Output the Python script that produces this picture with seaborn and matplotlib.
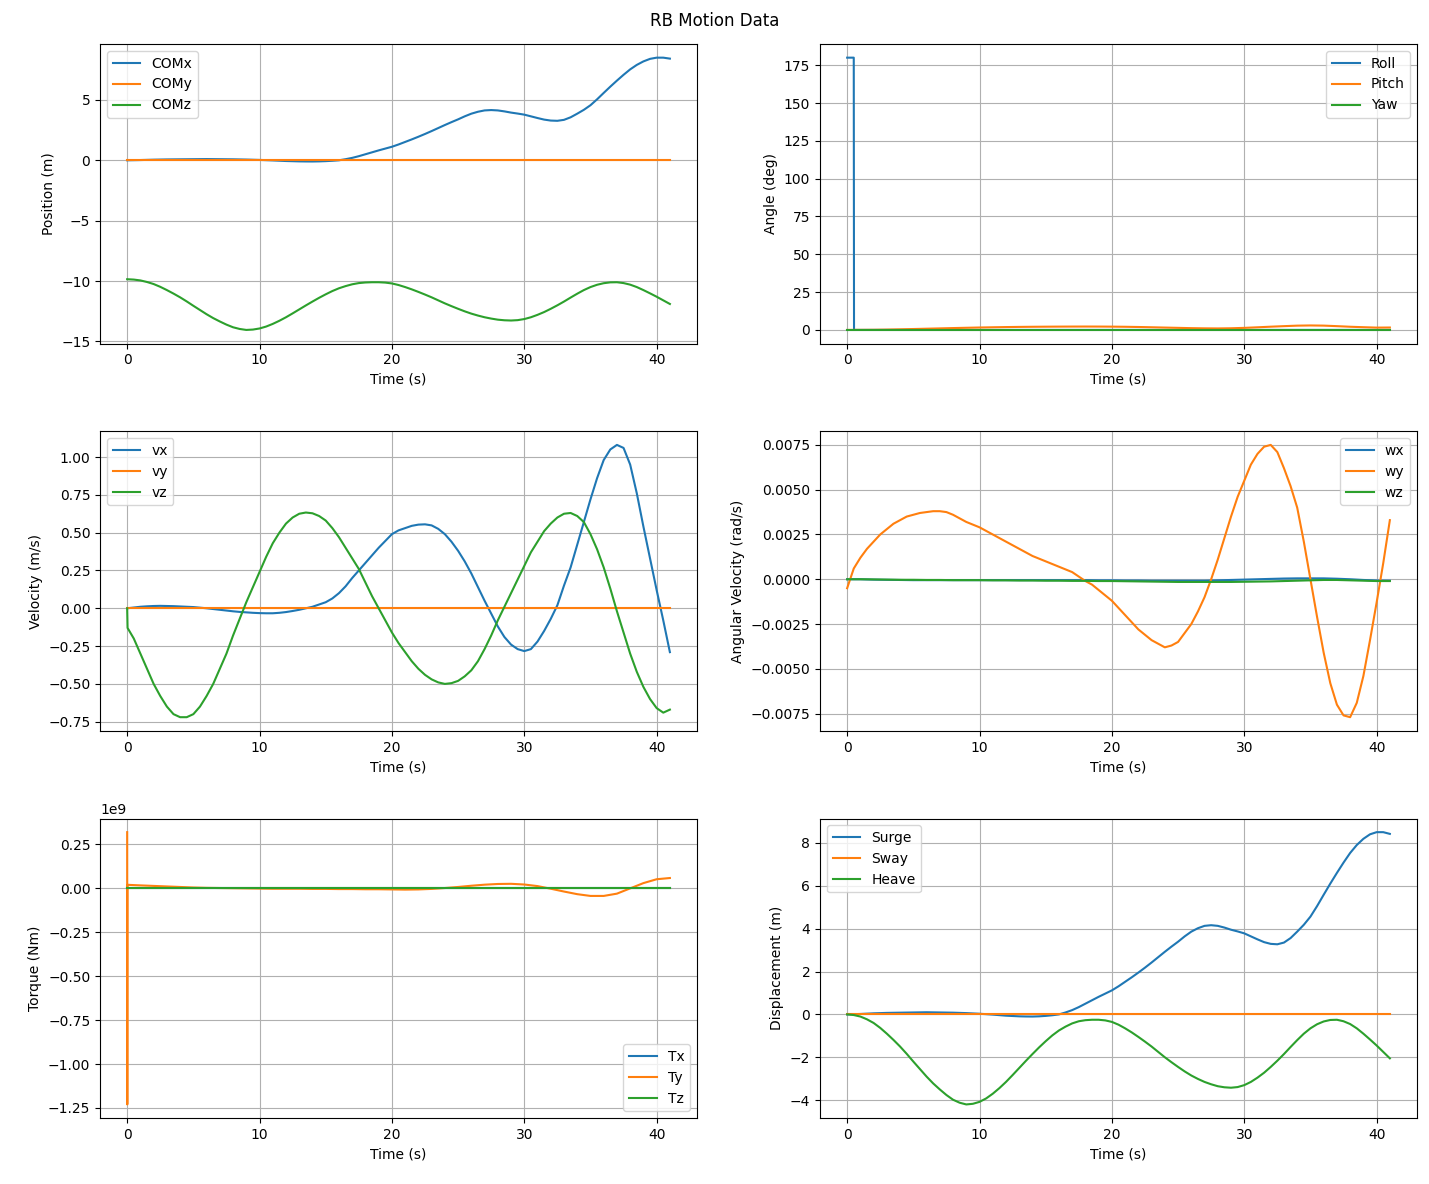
import matplotlib
matplotlib.use('Agg')
import matplotlib.pyplot as plt
import numpy as np
import seaborn as sns
from matplotlib.ticker import MultipleLocator

# time grids (s)
T = list(range(42))                      # one sample per second
T_HALF = [i * 0.5 for i in range(83)]    # one sample per half second

# centre of mass position (m), half-second samples
COM_X = [0.0, 0.01, 0.02, 0.035, 0.05, 0.06, 0.07, 0.075, 0.08, 0.085,
         0.09, 0.095, 0.1, 0.095, 0.09, 0.085, 0.08, 0.07, 0.06, 0.045,
         0.03, 0.01, -0.01, -0.035, -0.06, -0.075, -0.09, -0.097, -0.1, -0.09,
         -0.07, -0.04, 0.0, 0.09, 0.2, 0.34, 0.5, 0.66, 0.82, 0.97,
         1.12, 1.31, 1.52, 1.73, 1.95, 2.18, 2.42, 2.67, 2.92, 3.16,
         3.39, 3.64, 3.86, 4.02, 4.13, 4.16, 4.13, 4.05, 3.95, 3.87,
         3.78, 3.64, 3.5, 3.37, 3.29, 3.27, 3.35, 3.56, 3.86, 4.18,
         4.56, 5.05, 5.58, 6.1, 6.6, 7.08, 7.53, 7.9, 8.19, 8.4,
         8.5, 8.5, 8.42]
COM_Y = [0.0] * 83
COM_Z = [-9.85, -9.88, -9.95, -10.08, -10.25, -10.48, -10.75, -11.04, -11.35, -11.69,
         -12.05, -12.4, -12.75, -13.07, -13.35, -13.61, -13.83, -13.97, -14.05, -14.02,
         -13.93, -13.77, -13.55, -13.29, -13.0, -12.68, -12.35, -12.02, -11.7, -11.39,
         -11.1, -10.83, -10.6, -10.42, -10.27, -10.17, -10.12, -10.1, -10.1, -10.13,
         -10.2, -10.33, -10.5, -10.69, -10.9, -11.12, -11.35, -11.6, -11.85, -12.08,
         -12.3, -12.51, -12.7, -12.86, -13.0, -13.11, -13.2, -13.25, -13.27, -13.24,
         -13.15, -13.0, -12.8, -12.57, -12.3, -12.01, -11.7, -11.37, -11.05, -10.75,
         -10.5, -10.31, -10.18, -10.11, -10.1, -10.17, -10.3, -10.5, -10.75, -11.02,
         -11.3, -11.6, -11.9]

# attitude (deg)
T_ROLL = [0.0, 0.5, 0.52, 41.0]
ROLL = [180.0, 180.0, 0.0, 0.0]
PITCH = [0.0, 0.04, 0.09, 0.22, 0.4, 0.6, 0.81, 1.02, 1.23, 1.42, 1.6, 1.75, 1.89, 2.0, 2.08, 2.14, 2.19,
         2.22, 2.24, 2.22, 2.17, 2.08, 1.94, 1.76, 1.56, 1.37, 1.18, 1.05, 0.99, 1.1, 1.36, 1.74, 2.14,
         2.5, 2.83, 2.96, 2.85, 2.5, 2.1, 1.8, 1.53, 1.59]
YAW = [0.0] * 42

# linear velocity (m/s), half-second samples
VX = [0.0, 0.005, 0.01, 0.013, 0.015, 0.016, 0.015, 0.014, 0.012, 0.01,
      0.008, 0.004, 0.0, -0.005, -0.01, -0.015, -0.02, -0.024, -0.027, -0.03,
      -0.032, -0.033, -0.033, -0.03, -0.025, -0.018, -0.01, 0.0, 0.01, 0.025,
      0.04, 0.065, 0.1, 0.145, 0.2, 0.25, 0.3, 0.35, 0.4, 0.445,
      0.49, 0.515, 0.53, 0.545, 0.553, 0.555, 0.548, 0.525, 0.49, 0.44,
      0.38, 0.31, 0.23, 0.14, 0.05, -0.035, -0.12, -0.19, -0.24, -0.27,
      -0.283, -0.27, -0.22, -0.15, -0.07, 0.02, 0.15, 0.27, 0.42, 0.57,
      0.72, 0.86, 0.98, 1.05, 1.08, 1.06, 0.95, 0.76, 0.54, 0.33,
      0.12, -0.08, -0.29]
VY = [0.0] * 83
T_VZ = [0.0, 0.03] + T_HALF[1:]
VZ = [0.0, -0.13, -0.2, -0.3, -0.4, -0.5, -0.58, -0.65, -0.7, -0.72, -0.72,
      -0.7, -0.65, -0.58, -0.5, -0.4, -0.3, -0.18, -0.07, 0.04, 0.14,
      0.24, 0.34, 0.43, 0.5, 0.56, 0.6, 0.625, 0.633, 0.628, 0.61,
      0.58, 0.53, 0.47, 0.4, 0.33, 0.26, 0.17, 0.08, 0.0, -0.08,
      -0.16, -0.23, -0.29, -0.35, -0.4, -0.44, -0.47, -0.49, -0.5, -0.495,
      -0.48, -0.45, -0.41, -0.35, -0.27, -0.18, -0.08, 0.01, 0.1, 0.19,
      0.28, 0.37, 0.44, 0.51, 0.56, 0.6, 0.625, 0.63, 0.61, 0.57,
      0.49, 0.39, 0.27, 0.13, -0.02, -0.16, -0.3, -0.42, -0.52, -0.6,
      -0.66, -0.69, -0.67]

# angular velocity (rad/s)
T_W = [0.0, 0.2] + T[1:]
WX = [0.0, 0.0, 0.0, -0.00002, -0.00003, -0.00004, -0.00005, -0.00005, -0.00005, -0.00005, -0.00005,
      -0.00005, -0.00005, -0.00005, -0.00005, -0.00005, -0.00005, -0.00005, -0.00005, -0.00005, -0.00006,
      -0.00006, -0.00007, -0.00007, -0.00008, -0.00008, -0.00008, -0.00008, -0.00008, -0.00006, -0.00004,
      -0.00002, 0.0, 0.00002, 0.00004, 0.00005, 0.00005, 0.00005, 0.00003, 0.0, -0.00004, -0.00007,
      -0.00008]
WY = [-0.0005, 0.0006, 0.0012, 0.0017, 0.0021, 0.0025, 0.0028, 0.0031, 0.0033, 0.0035,
      0.0036, 0.0037, 0.00375, 0.0038, 0.0038, 0.00375, 0.0036, 0.0034, 0.0032, 0.00305,
      0.0029, 0.0027, 0.0025, 0.0023, 0.0021, 0.0019, 0.0017, 0.0015, 0.0013, 0.00115,
      0.001, 0.00085, 0.0007, 0.00055, 0.0004, 0.00015, -0.0001, -0.0003, -0.0006, -0.0009,
      -0.0012, -0.0016, -0.002, -0.0024, -0.0028, -0.0031, -0.0034, -0.0036, -0.0038, -0.0037,
      -0.0035, -0.003, -0.0025, -0.0018, -0.001, 0.0, 0.0011, 0.0023, 0.0035, 0.0046,
      0.0055, 0.0064, 0.007, 0.0074, 0.0075, 0.0071, 0.0062, 0.0052, 0.004, 0.0021,
      0.0, -0.0021, -0.0041, -0.0058, -0.007, -0.0076, -0.0077, -0.0069, -0.0054, -0.0034,
      -0.0013, 0.0009, 0.0033]
WZ = [0.0, 0.0, 0.0, -0.00001, -0.00002, -0.00003, -0.00003, -0.00004, -0.00004, -0.00005, -0.00005,
      -0.00005, -0.00006, -0.00006, -0.00007, -0.00007, -0.00008, -0.00008, -0.00009, -0.00009, -0.0001,
      -0.0001, -0.00011, -0.00012, -0.00013, -0.00014, -0.00015, -0.00015, -0.00015, -0.00015, -0.00015,
      -0.00014, -0.00013, -0.00012, -0.0001, -0.00008, -0.00006, -0.00004, -0.00004, -0.00006, -0.00008,
      -0.0001, -0.0001]

# torque (Nm), values in units of 1e9
T_TQ = [0.0, 0.01, 0.02, 0.1] + T[1:]
TX = [0.0] * 45
TY_E9 = [0.32, -1.23, 0.02, 0.02,
         0.017, 0.014, 0.011, 0.008, 0.005, 0.003, 0.002, 0.001, 0.0, -0.001,
         -0.002, -0.002, -0.002, -0.003, -0.003, -0.004, -0.004, -0.005, -0.005, -0.006,
         -0.007, -0.006, -0.003, 0.002, 0.008, 0.015, 0.021, 0.025, 0.026, 0.022,
         0.013, -0.002, -0.018, -0.033, -0.043, -0.043, -0.03, 0.0, 0.03, 0.052, 0.059]
TZ = [0.0] * 45

# displacement (m), half-second samples
SURGE = [0.0, 0.01, 0.02, 0.035, 0.05, 0.06, 0.07, 0.075, 0.08, 0.085,
         0.09, 0.095, 0.1, 0.095, 0.09, 0.085, 0.08, 0.07, 0.06, 0.045,
         0.03, 0.01, -0.01, -0.035, -0.06, -0.075, -0.09, -0.097, -0.1, -0.09,
         -0.07, -0.04, 0.0, 0.09, 0.2, 0.34, 0.5, 0.66, 0.82, 0.97,
         1.12, 1.31, 1.52, 1.73, 1.95, 2.18, 2.42, 2.67, 2.92, 3.16,
         3.39, 3.64, 3.86, 4.02, 4.13, 4.16, 4.13, 4.05, 3.95, 3.87,
         3.78, 3.64, 3.5, 3.37, 3.29, 3.27, 3.35, 3.56, 3.86, 4.18,
         4.56, 5.05, 5.58, 6.1, 6.6, 7.08, 7.53, 7.9, 8.19, 8.4,
         8.5, 8.5, 8.42]
SWAY = [0.0] * 83
HEAVE = [0.0, -0.03, -0.1, -0.23, -0.4, -0.63, -0.9, -1.19, -1.5, -1.84,
         -2.2, -2.55, -2.9, -3.22, -3.5, -3.76, -3.98, -4.12, -4.2, -4.17,
         -4.08, -3.92, -3.7, -3.44, -3.15, -2.83, -2.5, -2.17, -1.85, -1.54,
         -1.25, -0.98, -0.75, -0.57, -0.42, -0.32, -0.27, -0.25, -0.25, -0.28,
         -0.35, -0.48, -0.65, -0.84, -1.05, -1.27, -1.5, -1.75, -2.0, -2.23,
         -2.45, -2.66, -2.85, -3.01, -3.15, -3.26, -3.35, -3.4, -3.42, -3.39,
         -3.3, -3.15, -2.95, -2.72, -2.45, -2.16, -1.85, -1.52, -1.2, -0.9,
         -0.65, -0.46, -0.33, -0.26, -0.25, -0.32, -0.45, -0.65, -0.9, -1.17,
         -1.45, -1.75, -2.05]

COLORS = ['#1f77b4', '#ff7f0e', '#2ca02c']

fig, axes = plt.subplots(3, 2, figsize=(14.29, 11.84), dpi=100)
fig.suptitle('RB Motion Data', y=0.99)

panels = [
    (axes[0, 0], [(T_HALF, COM_X, 'COMx'), (T_HALF, COM_Y, 'COMy'), (T_HALF, COM_Z, 'COMz')],
     'Position (m)', 'upper left'),
    (axes[0, 1], [(T_ROLL, ROLL, 'Roll'), (T, PITCH, 'Pitch'), (T, YAW, 'Yaw')],
     'Angle (deg)', 'upper right'),
    (axes[1, 0], [(T_HALF, VX, 'vx'), (T_HALF, VY, 'vy'), (T_VZ, VZ, 'vz')],
     'Velocity (m/s)', 'upper left'),
    (axes[1, 1], [(T_W, WX, 'wx'), (T_HALF, WY, 'wy'), (T_W, WZ, 'wz')],
     'Angular Velocity (rad/s)', 'upper right'),
    (axes[2, 0], [(T_TQ, TX, 'Tx'), (T_TQ, np.array(TY_E9) * 1e9, 'Ty'), (T_TQ, TZ, 'Tz')],
     'Torque (Nm)', 'lower right'),
    (axes[2, 1], [(T_HALF, SURGE, 'Surge'), (T_HALF, SWAY, 'Sway'), (T_HALF, HEAVE, 'Heave')],
     'Displacement (m)', 'upper left'),
]

for ax, series, ylabel, loc in panels:
    for (x, y, name), c in zip(series, COLORS):
        sns.lineplot(x=x, y=y, ax=ax, label=name, color=c, sort=False, estimator=None, linewidth=1.5)
    ax.set_xlabel('Time (s)')
    ax.set_ylabel(ylabel)
    ax.grid(True)
    ax.legend(loc=loc)

# tick spacing as in the original figure
axes[1, 1].yaxis.set_major_locator(MultipleLocator(0.0025))
axes[2, 0].yaxis.set_major_locator(MultipleLocator(0.25e9))

fig.subplots_adjust(left=0.070, right=0.9916, bottom=0.0557, top=0.9628, wspace=0.206, hspace=0.293)
plt.savefig('out.png', dpi=100)
